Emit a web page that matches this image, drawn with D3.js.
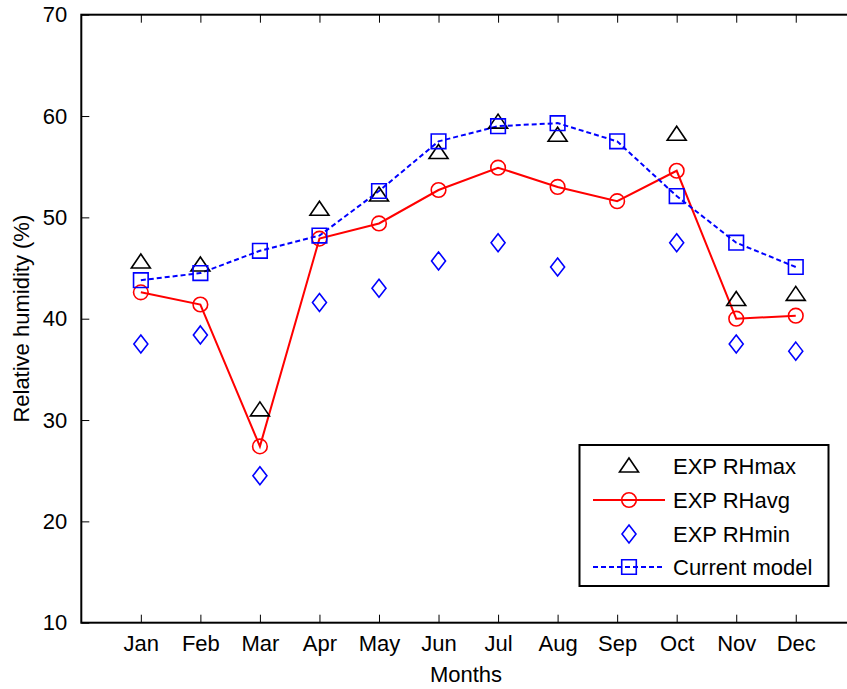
<!DOCTYPE html>
<html>
<head>
<meta charset="utf-8">
<script src="https://cdn.jsdelivr.net/npm/d3@7"></script>
<style>
  body { margin: 0; background: #fff; }
  svg { display: block; }
  text { font-family: "Liberation Sans", Arial, sans-serif; }
</style>
</head>
<body>
<div class="chart"></div>
<script>
// data
var months = ["Jan","Feb","Mar","Apr","May","Jun","Jul","Aug","Sep","Oct","Nov","Dec"];
var rhMax = [45.6, 45.3, 31.0, 50.8, 52.2, 56.4, 59.4, 58.1, null, 58.2, 41.9, 42.4];
var rhAvg = [42.6, 41.4, 27.4, 47.9, 49.4, 52.7, 54.9, 53.0, 51.6, 54.6, 40.0, 40.3];
var rhMin = [37.5, 38.4, 24.5, 41.6, 43.0, 45.7, 47.5, 45.1, null, 47.5, 37.5, 36.8];
var model = [43.8, 44.5, 46.7, 48.2, 52.6, 57.5, 59.0, 59.3, 57.5, 52.1, 47.5, 45.1];
var yTicks = [10, 20, 30, 40, 50, 60, 70];

var W = 847, H = 689;
var pLeft = 81.3, pTop = 14.7, pBottom = 622.7, pRight = 855.3;

var svg = d3.select(".chart").append("svg")
    .attr("width", W)
    .attr("height", H);

var x = d3.scaleLinear().domain([0, 13]).range([pLeft, pRight]);
var y = d3.scaleLinear().domain([10, 70]).range([pBottom, pTop]);

var fs = 22;
var tickLen = 8;
var dash = "5,3";

// box
svg.append("rect")
    .attr("x", pLeft).attr("y", pTop)
    .attr("width", pRight - pLeft).attr("height", pBottom - pTop)
    .attr("fill", "none").attr("stroke", "#000").attr("stroke-width", 2);

// axes with inward ticks, mirrored on top/right
var xIdx = d3.range(1, 13);
var bottomAxis = svg.append("g")
    .attr("transform", "translate(0," + pBottom + ")")
    .call(d3.axisBottom(x).tickValues(xIdx).tickSizeInner(-tickLen).tickSizeOuter(0)
        .tickPadding(13).tickFormat(function (d) { return months[d - 1]; }));
var topAxis = svg.append("g")
    .attr("transform", "translate(0," + pTop + ")")
    .call(d3.axisTop(x).tickValues(xIdx).tickSizeInner(-tickLen).tickSizeOuter(0).tickFormat(""));
var leftAxis = svg.append("g")
    .attr("transform", "translate(" + pLeft + ",0)")
    .call(d3.axisLeft(y).tickValues(yTicks).tickSizeInner(-tickLen).tickSizeOuter(0).tickPadding(14));
var rightAxis = svg.append("g")
    .attr("transform", "translate(" + pRight + ",0)")
    .call(d3.axisRight(y).tickValues(yTicks).tickSizeInner(-tickLen).tickSizeOuter(0).tickFormat(""));

[bottomAxis, topAxis, leftAxis, rightAxis].forEach(function (a) {
  a.select(".domain").remove();
  a.selectAll(".tick line").attr("stroke", "#000").attr("stroke-width", 1);
  a.selectAll("text").attr("fill", "#000").style("font-size", fs + "px")
    .style("font-family", "'Liberation Sans', Arial, sans-serif");
});

// axis titles
svg.append("text")
    .attr("x", 466).attr("y", 682)
    .attr("text-anchor", "middle").style("font-size", fs + "px")
    .text("Months");
svg.append("text")
    .attr("transform", "translate(29," + ((pTop + pBottom) / 2) + ")rotate(-90)")
    .attr("text-anchor", "middle").style("font-size", fs + "px")
    .text("Relative humidity (%)");

// marker shapes
function markerPath(type, cx, cy) {
  if (type === "tri") {
    return "M" + cx + "," + (cy - 8) + "L" + (cx + 9.5) + "," + (cy + 6) + "L" + (cx - 9.5) + "," + (cy + 6) + "Z";
  } else if (type === "dia") {
    return "M" + cx + "," + (cy - 9) + "L" + (cx + 7) + "," + cy + "L" + cx + "," + (cy + 9) + "L" + (cx - 7) + "," + cy + "Z";
  } else if (type === "sq") {
    return "M" + (cx - 7.3) + "," + (cy - 7.3) + "h14.6v14.6h-14.6Z";
  }
  return null;
}

function drawMarkers(vals, type, color) {
  var pts = vals.map(function (v, i) { return {i: i + 1, v: v}; })
      .filter(function (d) { return d.v != null; });
  if (type === "circ") {
    svg.append("g").selectAll("circle").data(pts).enter().append("circle")
        .attr("cx", function (d) { return x(d.i); })
        .attr("cy", function (d) { return y(d.v); })
        .attr("r", 7.3)
        .attr("fill", "none").attr("stroke", color).attr("stroke-width", 1.6);
  } else {
    svg.append("g").selectAll("path").data(pts).enter().append("path")
        .attr("d", function (d) { return markerPath(type, x(d.i), y(d.v)); })
        .attr("fill", "none").attr("stroke", color).attr("stroke-width", 1.6)
        .attr("stroke-linejoin", "miter");
  }
}

var line = d3.line()
    .x(function (d, i) { return x(i + 1); })
    .y(function (d) { return y(d); });

// red avg line
svg.append("path").datum(rhAvg)
    .attr("d", line)
    .attr("fill", "none").attr("stroke", "#ff0000").attr("stroke-width", 2);
// blue dashed model line
svg.append("path").datum(model)
    .attr("d", line)
    .attr("fill", "none").attr("stroke", "#0000ff").attr("stroke-width", 2)
    .attr("stroke-dasharray", dash);

drawMarkers(rhMax, "tri", "#000");
drawMarkers(rhAvg, "circ", "#ff0000");
drawMarkers(rhMin, "dia", "#0000ff");
drawMarkers(model, "sq", "#0000ff");

// legend
var legend = svg.append("g");
legend.append("rect")
    .attr("x", 579.5).attr("y", 445)
    .attr("width", 249).attr("height", 141)
    .attr("fill", "#fff").attr("stroke", "#000").attr("stroke-width", 2);

var legItems = [
  {label: "EXP RHmax", type: "tri", color: "#000", line: null},
  {label: "EXP RHavg", type: "circ", color: "#ff0000", line: "solid"},
  {label: "EXP RHmin", type: "dia", color: "#0000ff", line: null},
  {label: "Current model", type: "sq", color: "#0000ff", line: "dash"}
];
var rowY = [466, 500, 534, 567];
legItems.forEach(function (it, k) {
  var cy = rowY[k], cx = 629;
  if (it.line) {
    legend.append("line")
        .attr("x1", 593).attr("x2", 665).attr("y1", cy).attr("y2", cy)
        .attr("stroke", it.color).attr("stroke-width", 2)
        .attr("stroke-dasharray", it.line === "dash" ? dash : null);
  }
  if (it.type === "circ") {
    legend.append("circle").attr("cx", cx).attr("cy", cy).attr("r", 7.3)
        .attr("fill", "none").attr("stroke", it.color).attr("stroke-width", 1.6);
  } else {
    legend.append("path").attr("d", markerPath(it.type, cx, cy))
        .attr("fill", "none").attr("stroke", it.color).attr("stroke-width", 1.6);
  }
  legend.append("text")
      .attr("x", 673).attr("y", cy + 8)
      .style("font-size", fs + "px")
      .text(it.label);
});
</script>
</body>
</html>
